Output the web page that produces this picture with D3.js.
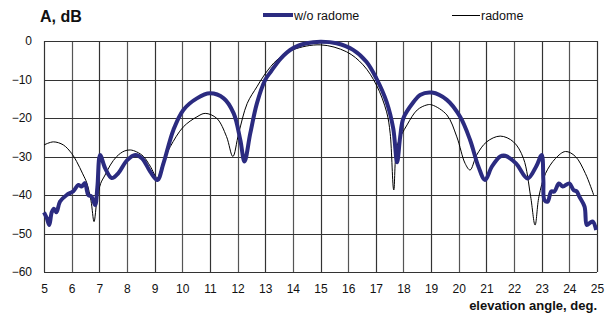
<!DOCTYPE html>
<html>
<head>
<meta charset="utf-8">
<script src="https://cdn.jsdelivr.net/npm/d3@7"></script>
<style>
    body { margin: 0; background: #fff; }
    svg { display: block; font-family: "Liberation Sans", Arial, sans-serif; }
</style>
</head>
<body>
<script>
(function(){
    // series: elevation angle (deg) and amplitude (dB)
    var woRadomeAngle = [5.0, 5.1, 5.19, 5.28, 5.36, 5.45, 5.58, 5.82, 6.06, 6.24, 6.36, 6.48, 6.6, 6.72, 6.85, 6.93,
        7.03, 7.21, 7.45, 7.69, 8.0, 8.3, 8.55, 8.84, 9.1, 9.32, 9.68, 10.04, 10.53, 11.0, 11.5, 11.86, 12.1, 12.25,
        12.46, 12.7, 13.0, 13.2, 13.57, 14.0, 14.5, 15.0, 15.58, 16.18, 16.66, 17.02, 17.39, 17.63, 17.77, 17.88,
        18.0, 18.37, 18.6, 19.03, 19.57, 20.05, 20.41, 20.71, 20.95, 21.2, 21.5, 21.68, 22.07, 22.49, 22.8, 23.0,
        23.06, 23.1, 23.22, 23.34, 23.46, 23.62, 23.76, 24.0, 24.15, 24.27, 24.36, 24.55, 24.63, 24.75, 24.85, 24.97];
    var woRadomeDb = [-44.5, -46, -47.8, -44.5, -43.6, -44.5, -41.7, -40, -39, -37.4, -37.8, -36.9, -40, -40.4, -42.6, -38,
        -29.6, -33, -35.6, -34.3, -31, -29.6, -30.5, -33.9, -36.1, -31.8, -23.1, -17.9, -14.9, -13.6, -14.9, -18.8, -25.7, -31.3,
        -24, -16.2, -10.1, -8, -4.5, -1.9, -0.6, -0.2, -0.6, -2.3, -5.4, -9.7, -15.8, -22.7, -31.5, -25,
        -20, -15.8, -14, -13.4, -15.3, -19.7, -25.7, -32.6, -36.1, -32.6, -30, -29.8, -31.8, -35.7, -32.6, -29.6,
        -36.1, -41.3, -41.7, -39.1, -39.1, -37, -37.8, -37, -38.7, -39.1, -40.4, -43, -47.8, -47.2, -46.9, -49.1];

    var radomeAngle = [5.0, 5.34, 5.7, 6.0, 6.18, 6.4, 6.55, 6.7, 6.81, 6.92, 7.05, 7.21, 7.4, 7.63, 7.9, 8.12, 8.35,
        8.6, 8.84, 9.1, 9.3, 9.57, 10.04, 10.53, 10.83, 11.25, 11.6, 11.83, 12.04, 12.35, 12.7, 13.0, 13.43, 14.0,
        15.0, 15.94, 16.54, 17.02, 17.39, 17.52, 17.65, 17.78, 18.13, 18.5, 18.85, 19.03, 19.57, 19.93, 20.23, 20.41,
        20.65, 21.01, 21.5, 21.98, 22.34, 22.6, 22.76, 22.9, 23.14, 23.5, 23.86, 24.22, 24.58, 24.88];
    var radomeDb = [-27, -26.2, -27, -29.2, -31.3, -34.5, -36.9, -41.5, -46.9, -41, -37, -34.8, -32.2, -30, -28.6, -28.3, -28.8,
        -30, -32.5, -35.5, -31.5, -27.4, -22.3, -19.7, -18.8, -20.1, -24.8, -30, -24, -16.2, -11.9, -8.5, -4.9, -2.3,
        -1.0, -2.8, -6.2, -11.4, -18.4, -24, -38.7, -27, -21.8, -17.9, -16.6, -16.6, -19.2, -24.9, -31.8, -33.5,
        -29.6, -26.2, -24.7, -26.2, -30.5, -40.4, -47.8, -40.4, -34.4, -30.5, -28.7, -30, -34.4, -40];

    var xTicks = d3.range(5, 26, 1);
    var yTicks = [0, -10, -20, -30, -40, -50, -60];
    var seriesNames = ["w/o radome", "radome"];

    var width = 613, height = 322;
    var margin = {top: 41, right: 16, bottom: 50, left: 44};

    var svg = d3.select("body")
        .append("svg")
        .attr("width", width)
        .attr("height", height);

    var x = d3.scaleLinear()
        .domain([5, 25])
        .range([margin.left, width - margin.right]);

    var y = d3.scaleLinear()
        .domain([-60, 0])
        .range([height - margin.bottom, margin.top]);

    // grid
    var grid = svg.append("g").attr("class", "grid");
    grid.selectAll(".vgrid")
        .data(xTicks)
        .enter()
        .append("line")
        .attr("x1", function(d){ return Math.round(x(d)) + 0.5; })
        .attr("x2", function(d){ return Math.round(x(d)) + 0.5; })
        .attr("y1", y(0))
        .attr("y2", y(-60))
        .attr("stroke", function(d, i){ return i % 2 ? "#555" : "#333"; })
        .attr("stroke-width", 1.2);
    grid.selectAll(".hgrid")
        .data(yTicks)
        .enter()
        .append("line")
        .attr("x1", x(5))
        .attr("x2", x(25))
        .attr("y1", function(d){ return Math.round(y(d)) + 0.5; })
        .attr("y2", function(d){ return Math.round(y(d)) + 0.5; })
        .attr("stroke", "#333")
        .attr("stroke-width", 1.2);

    // axes labels
    var xAxis = d3.axisBottom(x).tickValues(xTicks).tickSize(0).tickPadding(12);
    svg.append("g")
        .attr("transform", "translate(0," + y(-60) + ")")
        .call(xAxis)
        .call(function(g){ g.select(".domain").remove(); })
        .selectAll("text")
        .attr("font-size", "12px")
        .attr("font-family", "Liberation Sans, Arial, sans-serif")
        .attr("fill", "#111");

    var yAxis = d3.axisLeft(y).tickValues(yTicks).tickSize(0).tickPadding(12);
    svg.append("g")
        .attr("transform", "translate(" + x(5) + ",0)")
        .call(yAxis)
        .call(function(g){ g.select(".domain").remove(); })
        .selectAll("text")
        .attr("font-size", "12px")
        .attr("font-family", "Liberation Sans, Arial, sans-serif")
        .attr("fill", "#111");

    // lines
    var line = d3.line()
        .x(function(d){ return x(d[0]); })
        .y(function(d){ return y(d[1]); })
        .curve(d3.curveCatmullRom.alpha(0.5));

    var radome = d3.zip(radomeAngle, radomeDb);
    var woRadome = d3.zip(woRadomeAngle, woRadomeDb);

    svg.append("path")
        .datum(radome)
        .attr("d", line)
        .attr("fill", "none")
        .attr("stroke", "#000")
        .attr("stroke-width", 1);

    svg.append("path")
        .datum(woRadome)
        .attr("d", line)
        .attr("fill", "none")
        .attr("stroke", "#2b2b80")
        .attr("stroke-width", 4)
        .attr("stroke-linejoin", "round");

    // titles
    svg.append("text")
        .attr("x", 40)
        .attr("y", 22)
        .attr("font-size", "16px")
        .attr("font-weight", "bold")
        .attr("fill", "#111")
        .text("A, dB");

    svg.append("text")
        .attr("x", x(25))
        .attr("y", 310)
        .attr("text-anchor", "end")
        .attr("font-size", "13px")
        .attr("font-weight", "bold")
        .attr("fill", "#111")
        .text("elevation angle, deg.");

    // legend
    var legend = svg.append("g").attr("class", "legend");
    legend.append("line")
        .attr("x1", 263).attr("x2", 293)
        .attr("y1", 15).attr("y2", 15)
        .attr("stroke", "#2b2b80")
        .attr("stroke-width", 4);
    legend.append("text")
        .attr("x", 294).attr("y", 20)
        .attr("font-size", "12.5px")
        .attr("fill", "#111")
        .text(seriesNames[0]);
    legend.append("line")
        .attr("x1", 452).attr("x2", 480)
        .attr("y1", 15.5).attr("y2", 15.5)
        .attr("stroke", "#000")
        .attr("stroke-width", 1);
    legend.append("text")
        .attr("x", 481).attr("y", 20)
        .attr("font-size", "12.5px")
        .attr("fill", "#111")
        .text(seriesNames[1]);
})();
</script>
</body>
</html>
